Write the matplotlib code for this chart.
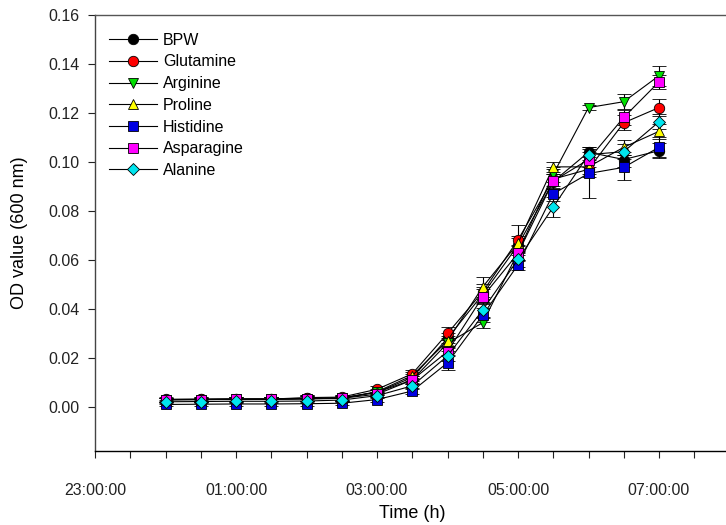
import matplotlib.pyplot as plt
import numpy as np
from matplotlib.lines import Line2D
from matplotlib.ticker import FixedLocator, MultipleLocator, FuncFormatter

plt.rcParams['font.family'] = ['Liberation Sans', 'DejaVu Sans']

# sampling times, hours after midnight
time_h = [0.0, 0.5, 1.0, 1.5, 2.0, 2.5, 3.0, 3.5, 4.0, 4.5, 5.0, 5.5, 6.0, 6.5, 7.0]

bpw = [0.0031, 0.0032, 0.0033, 0.0033, 0.0035, 0.0037, 0.0060, 0.0120, 0.0280, 0.0460, 0.0660, 0.0920, 0.1040, 0.1010, 0.1046]
glutamine = [0.0030, 0.0031, 0.0032, 0.0032, 0.0038, 0.0040, 0.0072, 0.0135, 0.0300, 0.0470, 0.0682, 0.0930, 0.0970, 0.1160, 0.1222]
arginine = [0.0030, 0.0030, 0.0031, 0.0031, 0.0034, 0.0036, 0.0060, 0.0110, 0.0260, 0.0344, 0.0630, 0.0950, 0.1222, 0.1246, 0.1352]
proline = [0.0029, 0.0030, 0.0030, 0.0031, 0.0033, 0.0035, 0.0062, 0.0128, 0.0270, 0.0490, 0.0668, 0.0980, 0.0980, 0.1060, 0.1125]
histidine = [0.0010, 0.0011, 0.0012, 0.0012, 0.0013, 0.0015, 0.0030, 0.0065, 0.0180, 0.0375, 0.0580, 0.0870, 0.0953, 0.0978, 0.1060]
asparagine = [0.0029, 0.0030, 0.0031, 0.0031, 0.0033, 0.0035, 0.0052, 0.0110, 0.0226, 0.0450, 0.0627, 0.0922, 0.1010, 0.1182, 0.1327]
alanine = [0.0021, 0.0022, 0.0023, 0.0023, 0.0024, 0.0028, 0.0046, 0.0086, 0.0208, 0.0396, 0.0602, 0.0816, 0.1030, 0.1042, 0.1164]

bpw_sd = [0.0008, 0.0008, 0.0008, 0.0008, 0.0012, 0.0010, 0.0010, 0.0015, 0.0020, 0.0030, 0.0030, 0.0030, 0.0020, 0.0030, 0.0030]
glutamine_sd = [0.0008, 0.0008, 0.0008, 0.0008, 0.0012, 0.0010, 0.0012, 0.0015, 0.0025, 0.0030, 0.0060, 0.0040, 0.0030, 0.0030, 0.0035]
arginine_sd = [0.0008, 0.0008, 0.0008, 0.0008, 0.0010, 0.0010, 0.0010, 0.0015, 0.0020, 0.0020, 0.0030, 0.0030, 0.0010, 0.0030, 0.0040]
proline_sd = [0.0008, 0.0008, 0.0008, 0.0008, 0.0010, 0.0010, 0.0010, 0.0015, 0.0020, 0.0040, 0.0030, 0.0020, 0.0030, 0.0030, 0.0030]
histidine_sd = [0.0008, 0.0008, 0.0008, 0.0008, 0.0008, 0.0008, 0.0010, 0.0012, 0.0030, 0.0030, 0.0020, 0.0030, 0.0100, 0.0050, 0.0040]
asparagine_sd = [0.0008, 0.0008, 0.0008, 0.0008, 0.0010, 0.0010, 0.0010, 0.0015, 0.0020, 0.0030, 0.0030, 0.0030, 0.0030, 0.0030, 0.0030]
alanine_sd = [0.0008, 0.0008, 0.0008, 0.0008, 0.0008, 0.0008, 0.0010, 0.0012, 0.0020, 0.0030, 0.0030, 0.0040, 0.0030, 0.0030, 0.0030]

series = [
    ("BPW", bpw, bpw_sd, "o", "black"),
    ("Glutamine", glutamine, glutamine_sd, "o", "#ff0000"),
    ("Arginine", arginine, arginine_sd, "v", "#00e000"),
    ("Proline", proline, proline_sd, "^", "#ffff00"),
    ("Histidine", histidine, histidine_sd, "s", "#0000e0"),
    ("Asparagine", asparagine, asparagine_sd, "s", "#ff00ff"),
    ("Alanine", alanine, alanine_sd, "D", "#00e5ee"),
]

fig = plt.figure(figsize=(7.26, 5.25), dpi=100)
ax = fig.add_axes([95 / 726, 74 / 525, 634.5 / 726, 436 / 525])

handles = []
for name, vals, sd, marker, color in series:
    ms = 6 if marker == "D" else 7.5
    style = dict(marker=marker, markersize=ms, markerfacecolor=color,
                 markeredgecolor="black", markeredgewidth=0.6)
    ax.errorbar(time_h, vals, yerr=sd, fmt="-", color="black", lw=0.8,
                ecolor="black", elinewidth=0.8, capsize=5, capthick=0.8, **style)
    handles.append(Line2D([], [], color="black", lw=0.8, label=name, **style))

ax.set_xlim(-1, 8)
ax.set_ylim(-0.018, 0.16)

ax.xaxis.set_major_locator(FixedLocator([-1, 1, 3, 5, 7]))
ax.xaxis.set_minor_locator(MultipleLocator(0.5))
ax.xaxis.set_major_formatter(FuncFormatter(lambda v, p: "%02d:00:00" % (int(round(v)) % 24)))
ax.yaxis.set_major_locator(MultipleLocator(0.02))
ax.yaxis.set_major_formatter(FuncFormatter(lambda v, p: "%.2f" % v))

ax.tick_params(axis="both", which="both", direction="out", length=5, width=0.8,
               labelsize=11.5, colors="#222222")
ax.tick_params(axis="x", which="major", pad=18)
ax.tick_params(axis="y", pad=6)

for side in ["left", "bottom", "top"]:
    ax.spines[side].set_linewidth(1.0)
ax.spines["left"].set_color("#444444")
ax.spines["top"].set_color("#555555")
ax.spines["right"].set_visible(False)

ax.set_xlabel("Time (h)", fontsize=13, labelpad=5)
ax.set_ylabel("OD value (600 nm)", fontsize=13, labelpad=15)

ax.legend(handles=handles, loc="upper left", bbox_to_anchor=(0.005, 0.985),
          frameon=False, fontsize=11.5, handlelength=3.0, handletextpad=0.35,
          labelspacing=0.42, borderaxespad=0.3)

fig.savefig("out.png", dpi=100)
